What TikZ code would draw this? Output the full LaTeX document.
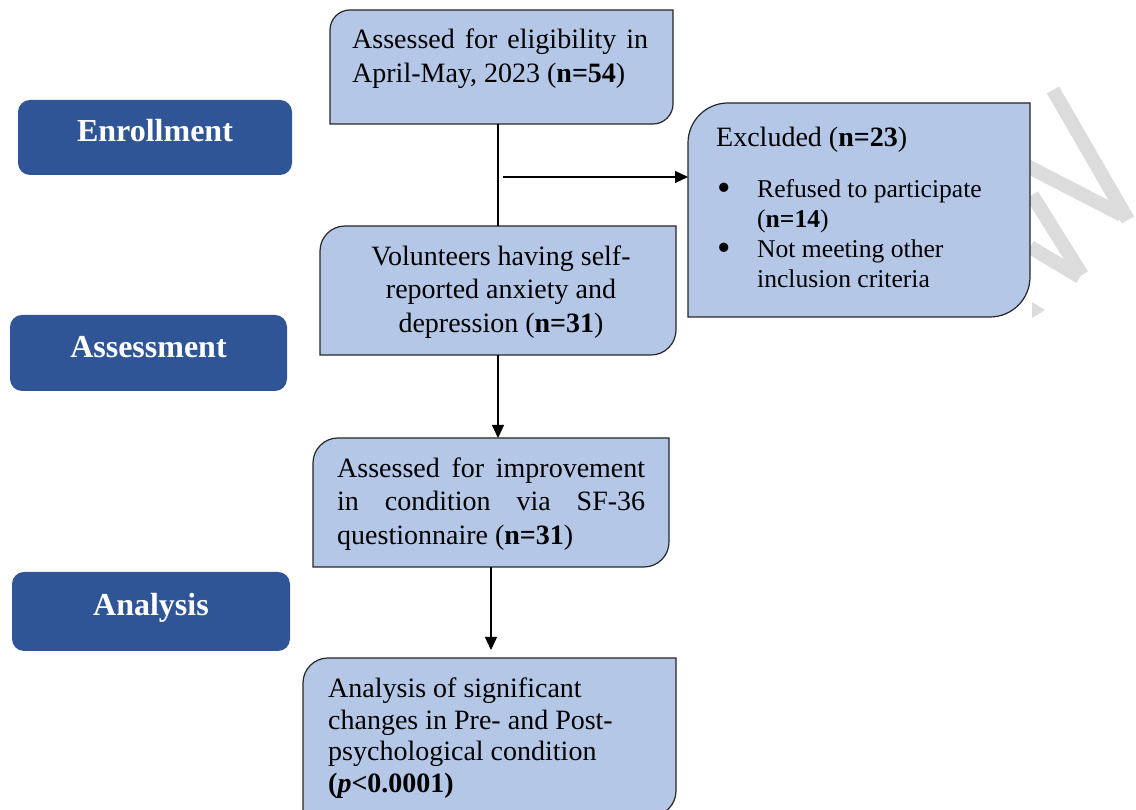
\documentclass[tikz,border=0pt]{standalone}
\usepackage{fontspec}
\setmainfont{Liberation Serif}
\usetikzlibrary{arrows.meta}
\definecolor{stageblue}{HTML}{2F5597}
\definecolor{boxblue}{HTML}{B4C7E7}
\definecolor{boxline}{HTML}{262626}
\definecolor{wmgray}{HTML}{DCDCDC}
\newcommand{\cutbox}[2]{%
  \filldraw[fill=boxblue, draw=boxline, line width=1.2pt]
    (#1.south west) -- ([yshift=-#2]#1.north west)
    arc[start angle=180, end angle=90, radius=#2]
    -- (#1.north east) -- ([yshift=#2]#1.south east)
    arc[start angle=0, end angle=-90, radius=#2] -- cycle;}
\newcommand{\bigbullet}{\makebox[40pt][l]{\raisebox{-3.5pt}{\scalebox{1.5}{\textbullet}}}}
\tikzset{
  stagebox/.style={fill=stageblue, rounded corners=12pt, text=white,
    font=\bfseries\fontsize{32}{36}\selectfont, text height=22pt, text depth=13pt, inner sep=0pt},
  flowbox/.style={inner sep=0pt, outer sep=0pt},
  boxtext/.style={inner sep=0pt, font=\fontsize{28}{33.5}\selectfont},
  listtext/.style={inner sep=0pt, font=\fontsize{25.6}{30}\selectfont},
  arr/.style={-{Triangle[length=13pt, width=12pt]}, line width=1.3pt},
  wmark/.style={draw=wmgray, line width=14pt}
}
\begin{document}
\begin{tikzpicture}[x=1pt, y=1pt]
    \useasboundingbox (0,0) rectangle (1136,810);
    \clip (0,0) rectangle (1136,810);
    \draw[wmark] (1053,720) -- (1128,590);
    \draw[wmark] (1025,645) -- (1122,595);
    \draw[wmark] (1032,615) -- (1082,535);
    \draw[wmark] (1030,563) -- (1080,533);
    \fill[wmgray] (1032,508) -- (1045,500) -- (1032,492) -- cycle;
    \node[stagebox, minimum width=274pt, minimum height=75pt] (enrol) at (155,672.5) {Enrollment};
    \node[stagebox, minimum width=277pt, minimum height=76pt] (assess) at (148.5,457) {Assessment};
    \node[stagebox, minimum width=278pt, minimum height=79pt] (analysis) at (151,198.5) {Analysis};
    \node[flowbox, minimum width=343pt, minimum height=114pt] (elig) at (501.5,743) {};
    \node[flowbox, minimum width=342pt, minimum height=214pt] (excl) at (859,600) {};
    \node[flowbox, minimum width=356pt, minimum height=129pt] (vol) at (498,519.5) {};
    \node[flowbox, minimum width=356pt, minimum height=129pt] (impr) at (491,307.5) {};
    \node[flowbox, minimum width=373pt, minimum height=158pt] (anal) at (489.5,73) {};
    \cutbox{elig}{20pt}
    \cutbox{excl}{40pt}
    \cutbox{vol}{25pt}
    \cutbox{impr}{25pt}
    \cutbox{anal}{25pt}
    \node[boxtext, anchor=north west, text width=296pt, align=justify] (eligtext) at (352,781)
        {Assessed for eligibility in\linebreak April-May, 2023 (\textbf{n=54})};
    \node[boxtext, anchor=base west] (exhead) at (716,663) {Excluded (\textbf{n=23})};
    \node[listtext, anchor=north west, align=left] (exlist) at (717,631)
        {\bigbullet Refused to participate\\
         \hspace*{40pt}(\textbf{n=14})\\
         \bigbullet Not meeting other\\
         \hspace*{40pt}inclusion criteria};
    \node[boxtext, anchor=north, align=center] (voltext) at (501,564.5)
        {Volunteers having self-\\reported anxiety and\\depression (\textbf{n=31})};
    \node[boxtext, anchor=north west, text width=308pt, align=justify] (imprtext) at (337,352.5)
        {Assessed for improvement\linebreak in condition via SF-36\linebreak questionnaire (\textbf{n=31})};
    \node[boxtext, anchor=north west, align=left, font=\fontsize{28}{31.7}\selectfont] (analtext) at (328,132.5)
        {Analysis of significant\\changes in Pre- and Post-\\psychological condition\\\textbf{(\textit{p}<0.0001)}};
    \coordinate (split) at (503,633);
    \draw[line width=1.3pt] (vol.north |- elig.south) -- (vol.north);
    \draw[arr] (split) -- (split -| excl.west);
    \draw[arr] (vol.south) -- (vol.south |- impr.north);
    \draw[arr] (impr.south) -- ([yshift=8pt]impr.south |- anal.north);
\end{tikzpicture}
\end{document}
